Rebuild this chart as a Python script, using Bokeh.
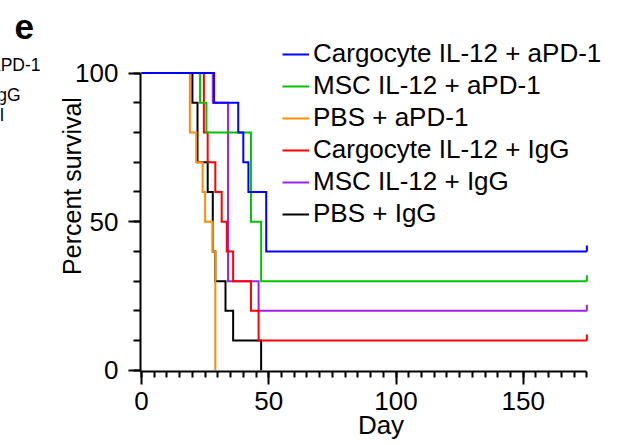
import numpy as np
from bokeh.plotting import figure
from bokeh.layouts import row
from bokeh.models import (Range1d, FixedTicker, Legend, LegendItem, Label,
                          ColumnDataSource, CDSView, IndexFilter)
from bokeh.embed import file_html
from bokeh.resources import INLINE

# ---------------- data ----------------
groups = ["Cargocyte IL-12 + aPD-1", "MSC IL-12 + aPD-1", "PBS + aPD-1",
          "Cargocyte IL-12 + IgG", "MSC IL-12 + IgG", "PBS + IgG"]
colors = ["#0000FF", "#00C400", "#FF8C00", "#FF0000", "#A020F0", "#000000"]

blue_days = [0, 28.5, 38, 40, 42, 49, 175]
blue_surv = [100, 90, 80, 70, 60, 40, 40]
green_days = [0, 23, 25.5, 43, 47, 175]
green_surv = [100, 90, 80, 50, 30, 30]
orange_days = [0, 19, 21.5, 24, 25, 28, 29]
orange_surv = [100, 80, 70, 60, 50, 40, 0]
red_days = [0, 24.5, 26, 29, 31.5, 33.5, 36, 43, 46, 175]
red_surv = [100, 80, 70, 60, 50, 40, 30, 20, 10, 10]
purple_days = [0, 28, 34, 46, 175]
purple_surv = [100, 90, 30, 20, 20]
black_days = [0, 20, 22, 26, 28, 29, 33, 36, 47]
black_surv = [100, 90, 70, 60, 40, 30, 20, 10, 0]

all_days = [blue_days, green_days, orange_days, red_days, purple_days, black_days]
all_surv = [blue_surv, green_surv, orange_surv, red_surv, purple_surv, black_surv]

x_ticks = [0, 50, 100, 150]
x_minor = list(range(0, 180, 5))
y_ticks = [0, 50, 100]
y_minor = list(range(0, 101, 10))
x_end = 175

panel_letter = "e"
neighbour_texts = ["aPD-1", "IgG", "l"]   # cut-off legend of the neighbouring panel

FONT = "Liberation Sans"

# ---------------- main figure ----------------
p = figure(width=581, height=445, output_backend="svg", toolbar_location=None,
           x_range=Range1d(-0.4, 188.6), y_range=Range1d(-0.4, 124.4),
           min_border_left=100, min_border_right=0,
           min_border_top=0, min_border_bottom=74)
p.outline_line_color = None
p.grid.visible = False
p.background_fill_color = "white"
p.border_fill_color = "white"

line_r = {}
mark_r = {}
order = list(range(len(groups)))[::-1]  # first group drawn on top
for i in order:
    d, s, c = all_days[i], all_surv[i], colors[i]
    line_r[i] = p.step(d, s, mode="after", line_width=2, color=c, line_join="miter")
    if s[-1] > 0:
        p.ray(x=[d[-1]], y=[s[-1]], length=6, length_units="screen",
              angle=np.pi / 2, color=c, line_width=2)
    src = ColumnDataSource(dict(x=[d[-1]], y=[s[-1]]))
    mark_r[i] = p.scatter("x", "y", source=src, marker="cross", line_color=c,
                          line_width=2, view=CDSView(filter=IndexFilter(indices=[])))

# axes
xa = p.xaxis[0]
ya = p.yaxis[0]
xa.ticker = FixedTicker(ticks=x_ticks, minor_ticks=x_minor)
ya.ticker = FixedTicker(ticks=y_ticks, minor_ticks=y_minor)
xa.bounds = (-0.4, x_end)
ya.bounds = (-0.4, 100)
for ax in (xa, ya):
    ax.axis_line_width = 2
    ax.axis_line_color = "black"
    ax.major_tick_line_width = 2
    ax.minor_tick_line_width = 2
    ax.major_tick_line_color = "black"
    ax.minor_tick_line_color = "black"
    ax.major_tick_in = 0
    ax.minor_tick_in = 0
    ax.major_label_text_font = FONT
    ax.major_label_text_font_size = "26px"
    ax.major_label_text_color = "black"
    ax.axis_label_text_font = FONT
    ax.axis_label_text_font_style = "normal"
    ax.axis_label_text_color = "black"
xa.major_tick_out = 13
xa.minor_tick_out = 6
xa.major_label_standoff = 7
xa.axis_label = "Day"
xa.axis_label_text_font_size = "26px"
xa.axis_label_standoff = -3
ya.major_tick_out = 12
ya.minor_tick_out = 7
ya.major_label_standoff = 10
ya.axis_label = "Percent survival"
ya.axis_label_text_font_size = "25px"
ya.axis_label_standoff = -14

# legend
items = [LegendItem(label=groups[i], renderers=[line_r[i], mark_r[i]]) for i in range(len(groups))]
legend = Legend(items=items, location=(142, 142), border_line_color=None,
                background_fill_alpha=0, padding=0, margin=0, spacing=1,
                glyph_width=27, glyph_height=28, label_height=28, label_standoff=4,
                label_text_font=FONT, label_text_font_size="26px",
                label_text_color="black")
p.add_layout(legend)

# ---------------- left strip: panel letter + neighbouring-panel fragments ----------------
side = figure(width=40, height=445, output_backend="svg", toolbar_location=None,
              x_axis_location=None, y_axis_location=None, min_border=0,
              x_range=Range1d(0, 1), y_range=Range1d(0, 1))
side.outline_line_color = None
side.grid.visible = False
side.add_layout(Label(x=14, y=345, x_units="screen", y_units="screen", text=panel_letter,
                      text_font=FONT, text_font_size="35px", text_font_style="bold",
                      text_color="black", text_baseline="alphabetic"))
for t, xr, yb in zip(neighbour_texts, [40, 20, 3.5], [307, 277, 257]):
    side.add_layout(Label(x=xr, y=yb, x_units="screen", y_units="screen", text=t,
                          text_font=FONT, text_font_size="17.5px", text_align="right",
                          text_color="black", text_baseline="alphabetic"))

layout = row(side, p, spacing=0)
open("out.html", "w").write(file_html(layout, INLINE))
